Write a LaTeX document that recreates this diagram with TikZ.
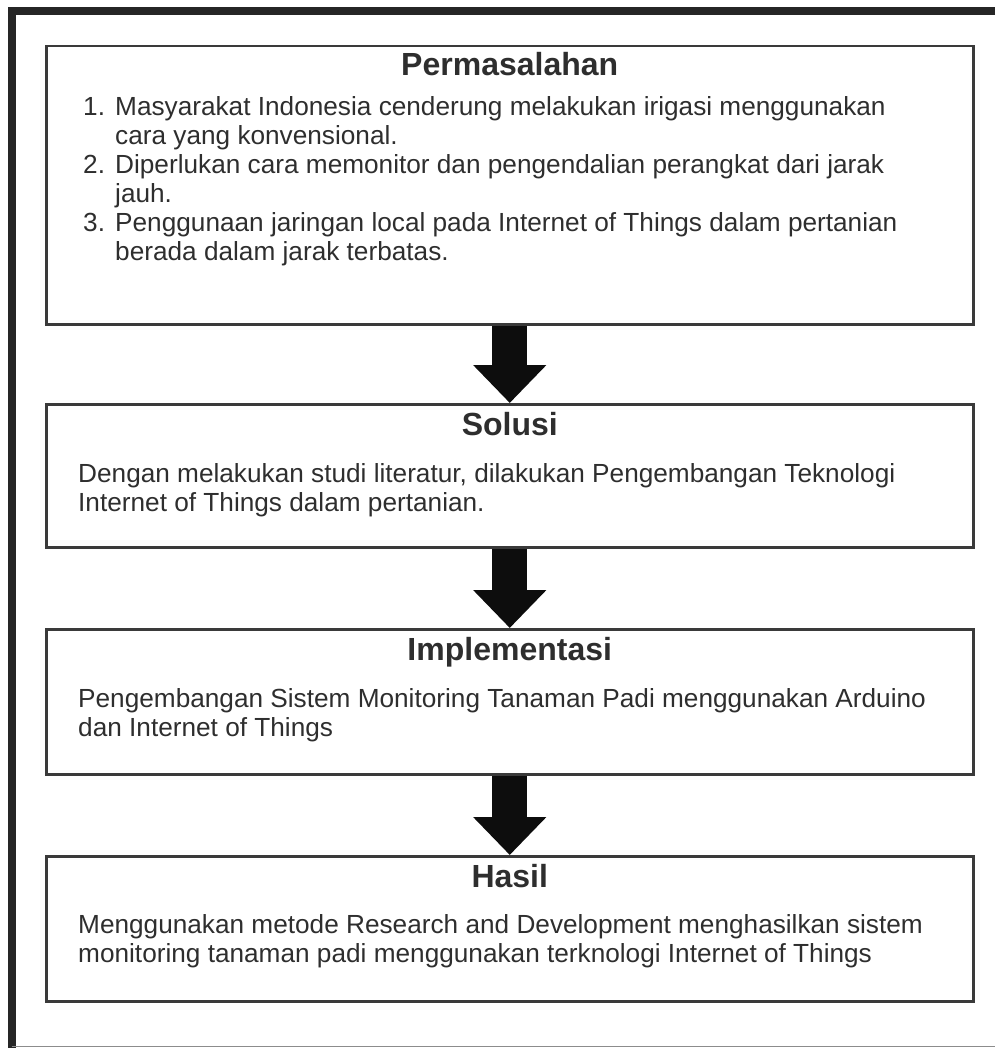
\documentclass[tikz,border=0pt]{standalone}
\usepackage{fontspec}
\setmainfont{Liberation Sans}
\usepackage{tikz}
\usetikzlibrary{arrows.meta,positioning}
\definecolor{ink}{HTML}{2E2E2E}
\definecolor{rim}{HTML}{3A3A3A}
\tikzstyle{panel}=[draw=rim,line width=2.5pt,inner sep=0pt,anchor=north west,minimum width=927pt]
\tikzstyle{heading}=[anchor=base,inner sep=0pt,text=ink,font=\fontsize{32}{36}\selectfont\bfseries]
\tikzstyle{body}=[anchor=base west,inner sep=0pt,text=ink,font=\fontsize{26.2}{29}\selectfont]
\tikzstyle{flow}=[draw=black!95,line width=35pt,-{Triangle[width=71pt,length=38pt]}]
\newcommand{\lines}[1]{\begin{tabular}[t]{@{}l@{}}#1\end{tabular}}
\newcommand{\items}[1]{\begin{tabular}[t]{@{}p{32pt}@{}l@{}}#1\end{tabular}}

\begin{document}
\begin{tikzpicture}[x=1pt,y=-1pt]
  \useasboundingbox (0,0) rectangle (995,1048);
  % outer frame
  \draw[black!85,line width=8pt] (995,11) -- (11.5,11) -- (11.5,1048);
  \draw[black!45,line width=1.5pt] (11.5,1046.5) -- (995,1046.5);

  \node[panel,minimum height=278pt] (box1) at (45,45)  {};
  \node[panel,minimum height=143pt] (box2) at (45,403) {};
  \node[panel,minimum height=145pt] (box3) at (45,628) {};
  \node[panel,minimum height=145pt] (box4) at (45,855) {};

  \node[heading] (t1) at ([yshift=-31pt]box1.north) {Permasalahan};
  \node[heading] (t2) at ([yshift=-32pt]box2.north) {Solusi};
  \node[heading] (t3) at ([yshift=-32pt]box3.north) {Implementasi};
  \node[heading] (t4) at ([yshift=-32pt]box4.north) {Hasil};

  \node[body] (b1) at ([xshift=38pt,yshift=-71pt]box1.north west) {\items{
    1. & Masyarakat Indonesia cenderung melakukan irigasi menggunakan\\
       & cara yang konvensional.\\
    2. & Diperlukan cara memonitor dan pengendalian perangkat dari jarak\\
       & jauh.\\
    3. & Penggunaan jaringan local pada Internet of Things dalam pertanian\\
       & berada dalam jarak terbatas.}};
  \node[body] (b2) at ([xshift=33pt,yshift=-79pt]box2.north west) {\lines{
    Dengan melakukan studi literatur, dilakukan Pengembangan Teknologi\\
    Internet of Things dalam pertanian.}};
  \node[body] (b3) at ([xshift=33pt,yshift=-79pt]box3.north west) {\lines{
    Pengembangan Sistem Monitoring Tanaman Padi menggunakan Arduino\\
    dan Internet of Things}};
  \node[body] (b4) at ([xshift=33pt,yshift=-78pt]box4.north west) {\lines{
    Menggunakan metode Research and Development menghasilkan sistem\\
    monitoring tanaman padi menggunakan terknologi Internet of Things}};

  \draw[flow] (box1.south) -- (box2.north);
  \draw[flow] (box2.south) -- (box3.north);
  \draw[flow] (box3.south) -- (box4.north);
\end{tikzpicture}
\end{document}
